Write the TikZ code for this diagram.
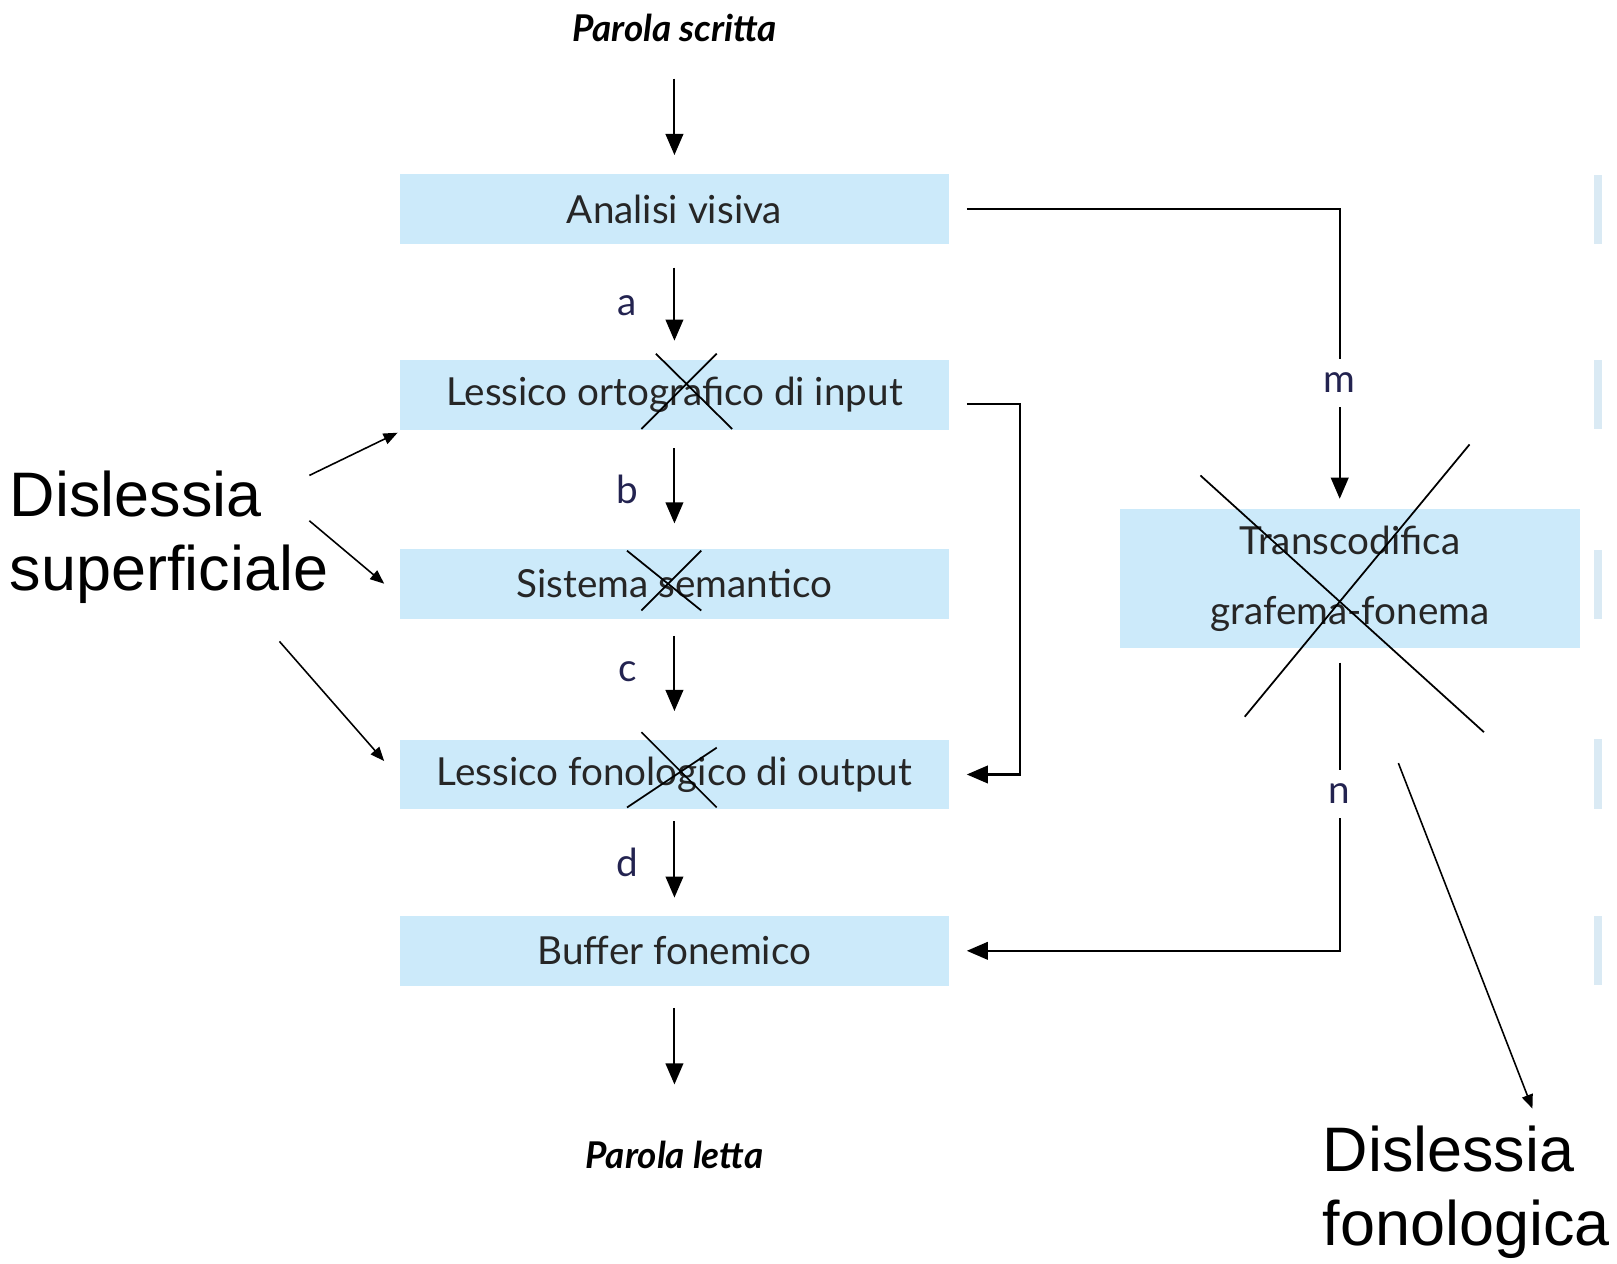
\documentclass[tikz,border=0pt]{standalone}
\usepackage{fontspec}
\setmainfont{Lato}
\newfontfamily\arialfont{Liberation Sans}
\usetikzlibrary{arrows.meta,positioning}

\definecolor{boxblue}{RGB}{204,234,250}
\definecolor{edgeblue}{RGB}{218,234,244}
\definecolor{labelnavy}{RGB}{35,35,80}

\tikzset{
  stage/.style={rectangle,
    fill = boxblue,
    text = black!85,
    minimum width = 156pt,
    minimum height = 19.9pt,
    font = \fontsize{11}{19.9}\selectfont},
  wordend/.style={font = \fontsize{10.5}{12}\selectfont\bfseries\itshape},
  flow/.style={-{Triangle[length=6pt,width=5pt]}, line width=0.6pt},
  lbl/.style={text = labelnavy, font = \fontsize{11}{12}\selectfont},
  cut/.style={line width=0.5pt},
  dyslexia/.style={align = left, anchor = west, inner sep = 0pt,
    font = \arialfont\fontsize{17.9}{21}\selectfont},
  pointer/.style={-{Triangle[length=4pt,width=3.2pt]}, line width=0.45pt}
}

\begin{document}
\begin{tikzpicture}[x=0.01031cm, y=-0.01031cm]
\useasboundingbox (0,0) rectangle (1568,1225);

% input and output words
\node[wordend] (ps) at (654,27) {Parola scritta};
\node[wordend] (pl) at (654,1120) {Parola letta};

% lexical route
\node[stage] (av) at (654,203) {Analisi visiva};
\node[stage] (loi) at (654,383) {Lessico ortografico di input};
\node[stage] (ss) at (654,566) {Sistema semantico};
\node[stage] (lfo) at (654,751) {Lessico fonologico di output};
\node[stage] (bf) at (654,922) {Buffer fonemico};

% sublexical route
\node[stage,
    minimum width = 131pt,
    minimum height = 39.8pt,
    align = center] (tgf) at (1309,561) {Transcodifica\\grafema-fonema};

% cut-off boxes at the right edge
\foreach \y in {170,349,533,717,888}
  \fill[edgeblue] (1546,\y) rectangle (1553,\y+67);

\draw[flow, shorten <=7pt, shorten >=5.3pt] (ps) -- (av);
\draw[flow, shorten <=6.4pt, shorten >=5.3pt] (av) -- node[lbl, xshift=-13.4pt, yshift=-1pt] {a} (loi);
\draw[flow, shorten <=5pt, shorten >=7pt] (loi) -- node[lbl, xshift=-13.4pt] {b} (ss);
\draw[flow, shorten <=4.7pt, shorten >=7.9pt] (ss) -- node[lbl, xshift=-13.4pt, yshift=2pt] {c} (lfo);
\draw[flow, shorten <=3.2pt, shorten >=5pt] (lfo) -- node[lbl, xshift=-13.4pt] {d} (bf);
\draw[flow, shorten <=6.1pt, shorten >=12.6pt] (bf) -- (pl);

\draw[flow] ([xshift=5pt]loi.east) ++(0,9) -- ++(52,0) |- ([xshift=5pt]lfo.east);
\draw[flow, shorten >=2.6pt] ([xshift=5pt]av.east) -| node[lbl, pos=0.79, fill=white, inner sep=4pt] {m} ([xshift=-2.9pt]tgf.north);
\draw[flow, shorten <=3.8pt] ([xshift=-2.9pt]tgf.south) |- node[lbl, pos=0.24, fill=white, inner sep=4pt] {n} ([xshift=5pt]bf.east);

% damaged components
\draw[cut] (636,343) -- (710,416) (695,343) -- (622,416);
\draw[cut] (608,534) -- (680,592) (680,534) -- (622,592);
\draw[cut] (622,710) -- (695,783) (695,725) -- (608,783);
\draw[cut] (1164,461) -- (1439,710) (1425,431) -- (1207,695);

% dyslexia types
\node[dyslexia] (ds) at (9,521) {Dislessia\\superficiale};
\node[dyslexia] (df) at (1282,1156) {Dislessia\\fonologica};

\coordinate (ds1) at (300,461);
\coordinate (ds2) at (300,505);
\coordinate (ds3) at (271,622);
\coordinate (df1) at (1356,740);
\coordinate (df2) at (1486,1075);

\draw[pointer] (ds1) -- ([shift={(-2,2)}]loi.south west);
\draw[pointer] (ds2) -- ([xshift=-4.4pt]ss.west);
\draw[pointer] (ds3) -- ([shift={(-15,-13)}]lfo.west);
\draw[pointer] (df1) -- (df2);
\end{tikzpicture}
\end{document}
